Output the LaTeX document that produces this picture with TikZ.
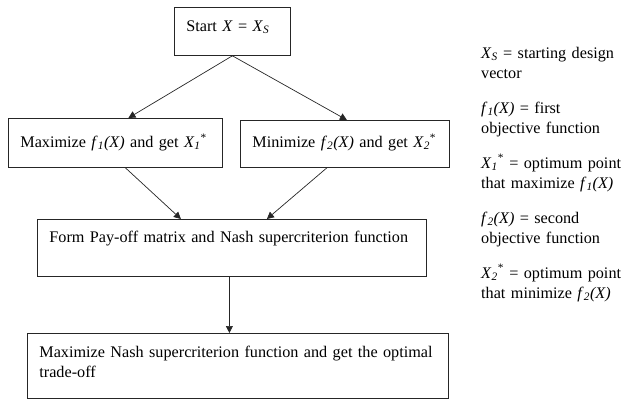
\documentclass[tikz,border=0pt]{standalone}
\usepackage{fontspec}
\setmainfont{Liberation Serif}
\usepackage{tikz}
\usetikzlibrary{arrows.meta,calc}

\newcommand{\Xs}{\textit{X}\textsubscript{\textit{S}}}
\newcommand{\fone}{\textit{f}\textsubscript{\textit{1}}\textit{(X)}}
\newcommand{\ftwo}{\textit{f}\textsubscript{\textit{2}}\textit{(X)}}
\newcommand{\Xone}{\textit{X}\textsubscript{\textit{1}}\textsuperscript{*}}
\newcommand{\Xtwo}{\textit{X}\textsubscript{\textit{2}}\textsuperscript{*}}

\tikzset{
  box/.style={draw=black!85, line width=0.8pt, anchor=north west, align=left,
    inner xsep=12pt, inner ysep=0pt},
  arr/.style={draw=black!85, line width=0.7pt, -{Triangle[length=7pt,width=7pt]}}
}

\begin{document}
\begin{tikzpicture}[x=1pt, y=-1pt, font=\fontsize{16.2}{20}\selectfont]
    \useasboundingbox (0,0) rectangle (622,400);

    % flow chart
    \node[box, text width=92pt, text height=24pt, text depth=24pt] (start) at (174,7) {\mbox{Start \textit{X} = \Xs}};
    \node[box, text width=190pt, text height=29pt, text depth=20pt] (maxi) at (8,118) {\mbox{Maximize \fone{} and get \Xone}};
    \node[box, text width=185pt, text height=27pt, text depth=20pt] (mini) at (240,120) {\mbox{Minimize \ftwo{} and get \Xtwo}};
    \node[box, text width=365pt, text height=23pt, text depth=34pt] (form) at (37,219) {\mbox{Form Pay-off matrix and Nash supercriterion function}};
    \node[box, text width=397pt, text height=24pt, text depth=41pt] (final) at (27,333) {\mbox{Maximize Nash supercriterion function and get the optimal}\\ trade-off};

    \draw[arr] (start.south) -- ([xshift=13pt]maxi.north);
    \draw[arr] (start.south) -- ([xshift=2pt]mini.north);
    \draw[arr] ([xshift=10pt]maxi.south) -- ([xshift=-51pt]form.north);
    \draw[arr] ([xshift=-18pt]mini.south) -- ([xshift=35pt]form.north);
    \draw[arr] ([xshift=-2.5pt]form.south) -- ([xshift=-2.5pt]form.south |- final.north);

    % notation
    \node[anchor=base west, text width=150pt, align=left, inner sep=0pt] (legend) at (481,58) {%
        \Xs{} = starting design\\ vector\\[15pt]
        \fone{} = first\\ objective function\\[15pt]
        \mbox{\Xone{} = optimum point}\\ that maximize \fone\\[15pt]
        \ftwo{} = second\\ objective function\\[15pt]
        \mbox{\Xtwo{} = optimum point}\\ that minimize \ftwo};
\end{tikzpicture}
\end{document}
